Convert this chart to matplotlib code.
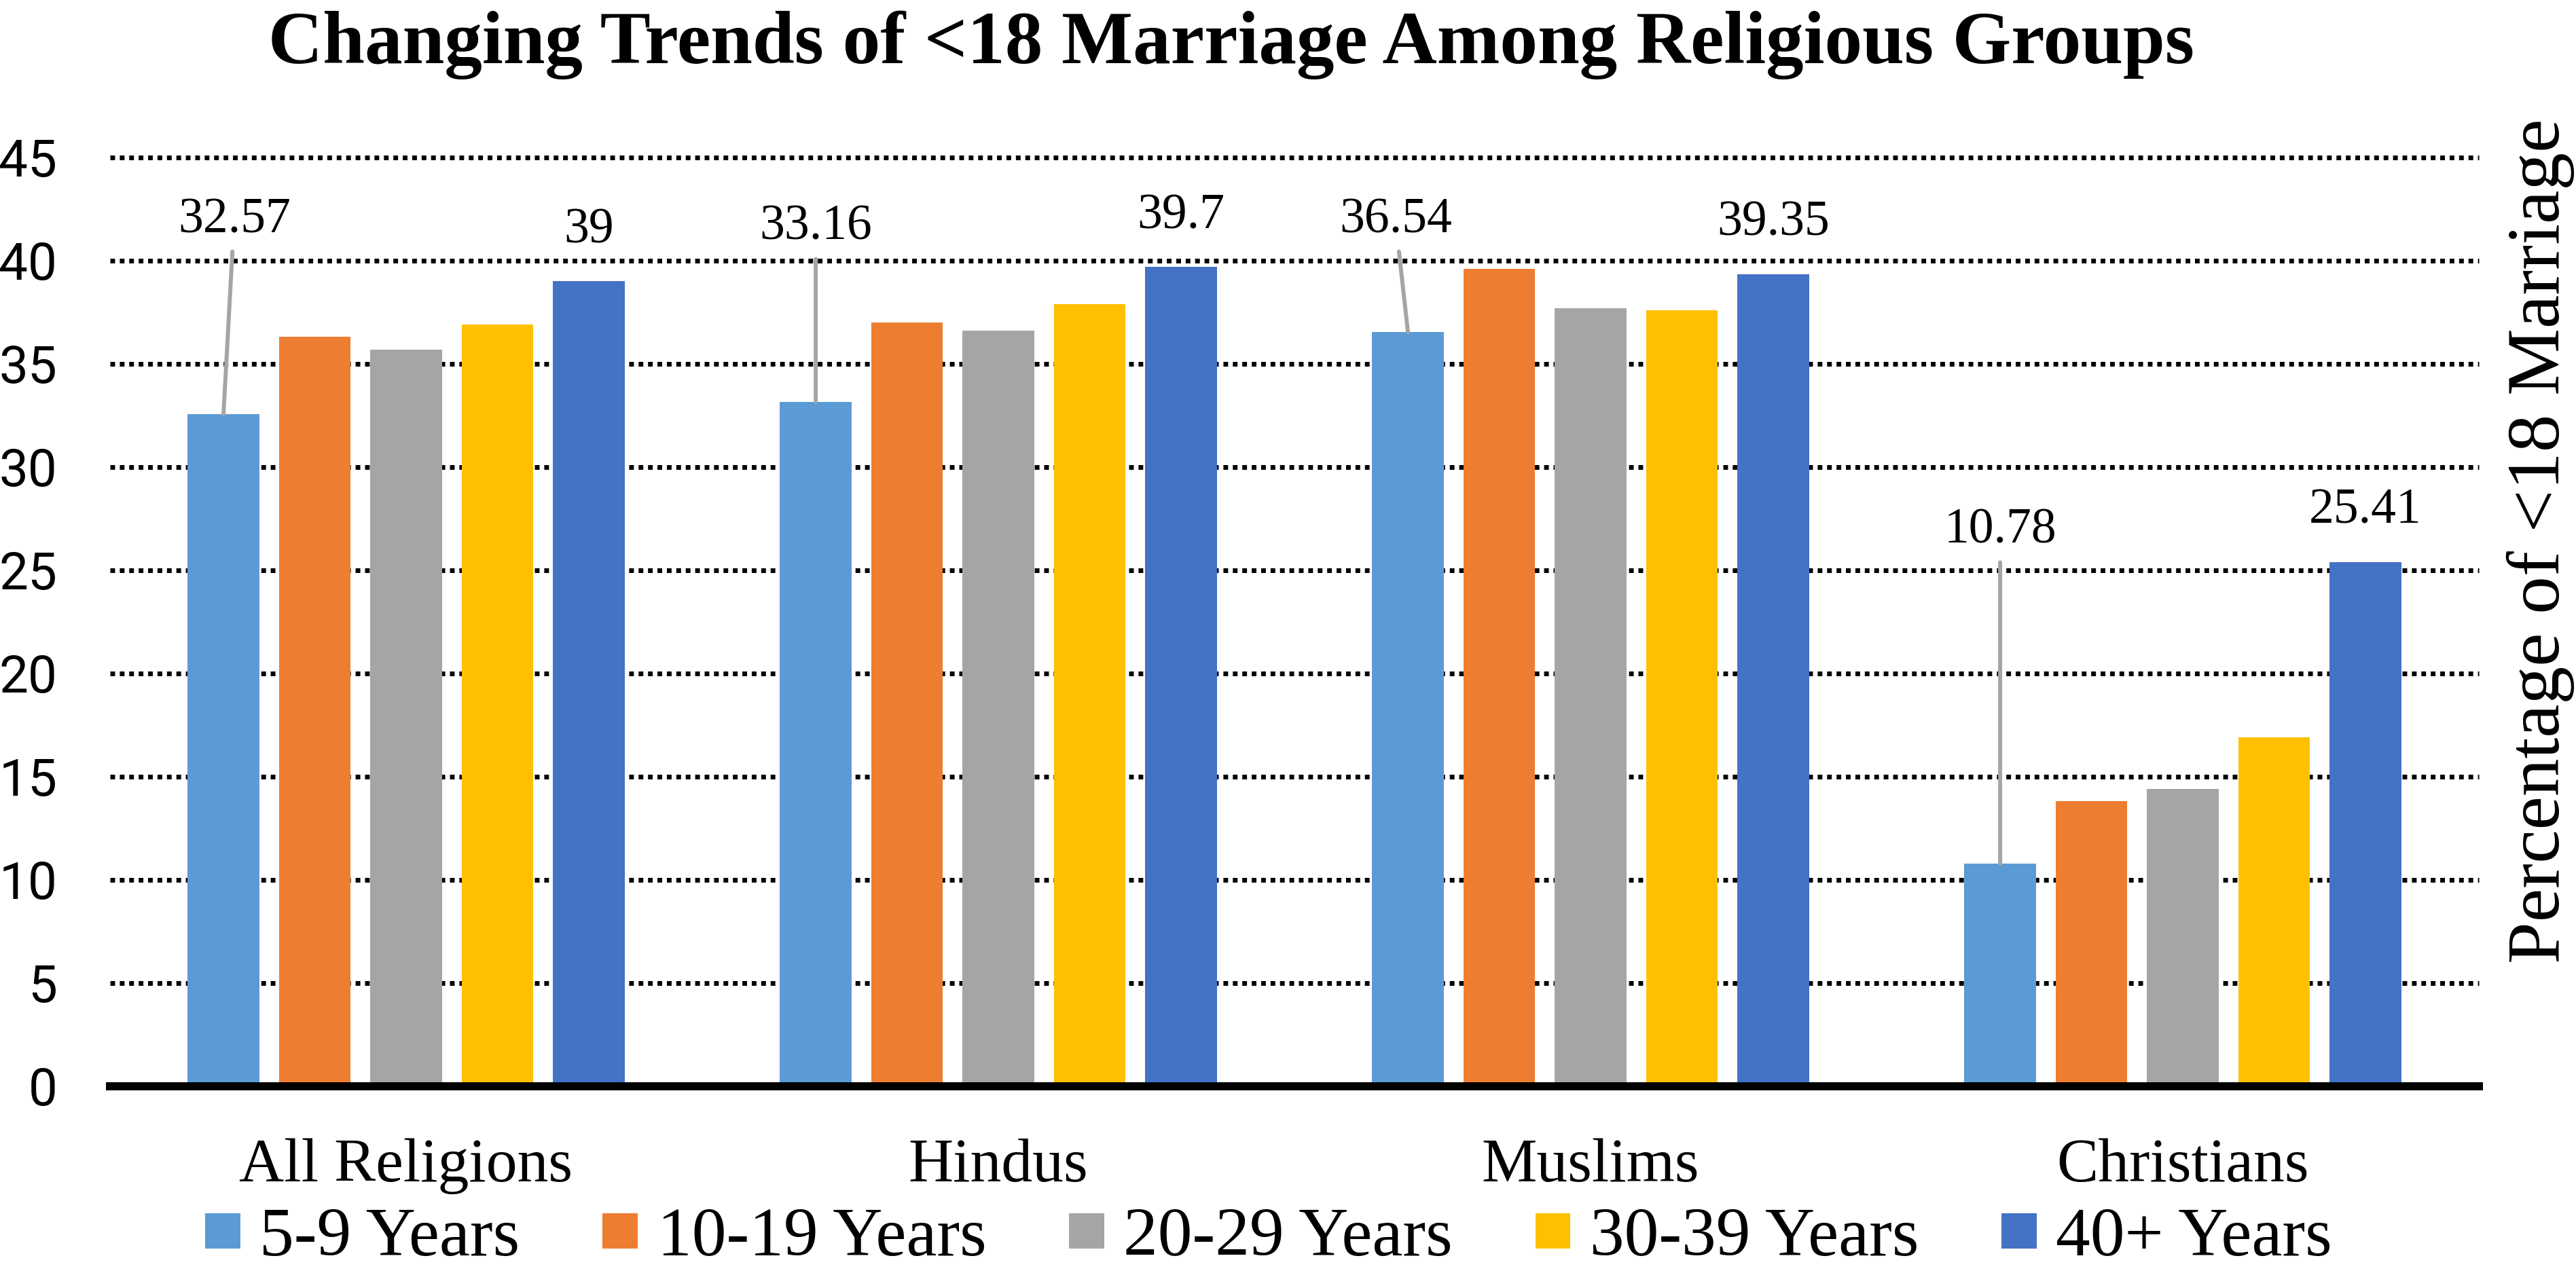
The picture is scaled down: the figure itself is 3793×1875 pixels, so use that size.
import matplotlib
matplotlib.use("Agg")
import matplotlib.pyplot as plt
import numpy as np

# data
groups = ["All Religions", "Hindus", "Muslims", "Christians"]
age_bands = ["5-9 Years", "10-19 Years", "20-29 Years", "30-39 Years", "40+ Years"]
yr_5_9 = [32.57, 33.16, 36.54, 10.78]
yr_10_19 = [36.3, 37.0, 39.6, 13.8]
yr_20_29 = [35.7, 36.6, 37.7, 14.4]
yr_30_39 = [36.9, 37.9, 37.6, 16.9]
yr_40_plus = [39.0, 39.7, 39.35, 25.41]
y_ticks = [0, 5, 10, 15, 20, 25, 30, 35, 40, 45]

colors = ["#5B9BD5", "#ED7D31", "#A5A5A5", "#FFC000", "#4472C4"]

# the 5-9 labels were dragged up in the original, with leader lines
lead_dx = [0.018, 0.0, -0.021, 0.0]      # shift in group units
lead_y = [41.38, 41.02, 41.38, 26.32]    # baseline height in axis units

DPI = 100
serif = "Liberation Serif"

fig = plt.figure(figsize=(37.93, 18.75), dpi=DPI)
ax = fig.add_axes([0.04271, 0.14667, 0.91959, 0.7296])

x = np.arange(len(groups))
width = 0.121
step = 0.1542
series = [yr_5_9, yr_10_19, yr_20_29, yr_30_39, yr_40_plus]
bars = []
for j, (vals, c) in enumerate(zip(series, colors)):
    b = ax.bar(x + (j - 2) * step, vals, width, color=c, zorder=2)
    bars.append(b)

# dotted gridlines (drawn by hand so the top one is not clipped)
for yt in y_ticks[1:]:
    ax.axhline(yt, color="black", lw=5, linestyle=(0, (1, 1)),
               dash_capstyle="butt", zorder=1, clip_on=False)

for i in range(len(groups)):
    bx = x[i] - 2 * step
    ax.annotate(f"{yr_5_9[i]:g}", xy=(bx, yr_5_9[i]),
                xytext=(bx + lead_dx[i], lead_y[i]),
                ha="center", va="baseline", fontsize=53, family=serif,
                arrowprops=dict(arrowstyle="-", color="#A5A5A5", lw=4.3,
                                shrinkA=7, shrinkB=0),
                zorder=4)
    bx = x[i] + 2 * step
    ax.annotate(f"{yr_40_plus[i]:g}", xy=(bx, yr_40_plus[i]),
                xytext=(0, 41), textcoords="offset points",
                ha="center", va="baseline", fontsize=53, family=serif,
                zorder=4)

ax.set_xlim(-0.5, 3.5)
ax.set_ylim(0, 45)
ax.set_yticks(y_ticks)
ax.set_yticklabels([str(v) for v in y_ticks], family="Roboto", fontsize=55)
ax.tick_params(axis="y", length=0, pad=56)
ax.set_xticks(x)
ax.set_xticklabels(groups, family=serif, fontsize=66)
ax.tick_params(axis="x", length=0, pad=55)

for s in ["top", "left", "right"]:
    ax.spines[s].set_visible(False)
ax.spines["bottom"].set_linewidth(8.6)
ax.spines["bottom"].set_color("black")
ax.spines["bottom"].set_zorder(3)

fig.text(0.478, 0.9504, "Changing Trends of <18 Marriage Among Religious Groups",
         ha="center", va="baseline", family=serif, weight="bold", fontsize=80)
fig.text(0.9863, 0.5749, "Percentage of <18 Marriage", rotation=90,
         ha="center", va="center", family=serif, fontsize=80)

fig.legend(bars, age_bands, loc="center", bbox_to_anchor=(0.4925, 0.0267),
           ncol=5, frameon=False, prop={"family": serif, "size": 73},
           handlelength=0.51, handleheight=0.4, handletextpad=0.283,
           columnspacing=1.2, borderpad=0, borderaxespad=0)

fig.savefig("out.png", dpi=DPI)
